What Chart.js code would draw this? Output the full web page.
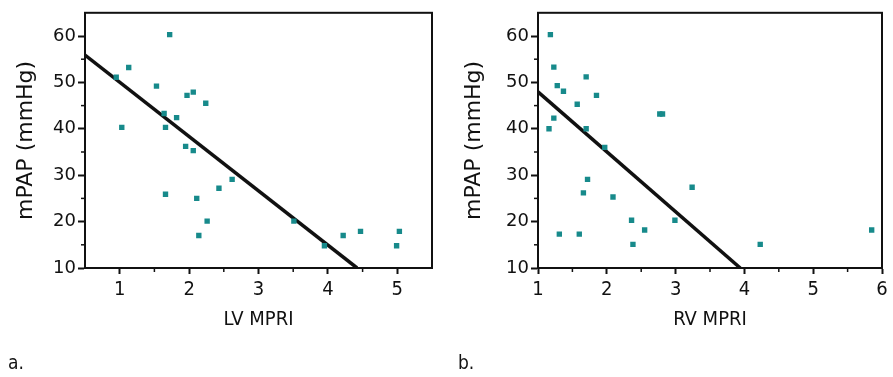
<!DOCTYPE html>
<html>
<head>
<meta charset="utf-8">
<script src="https://cdn.jsdelivr.net/npm/chart.js@4.4.1/dist/chart.umd.min.js"></script>
<style>
  body { margin: 0; background: #fff; width: 893px; height: 377px; position: relative; overflow: hidden; }
  .wrap { position: absolute; top: 0; height: 377px; }
  .panel { position: absolute; top: 351px; font-family: "Liberation Sans Narrow", "DejaVu Sans Condensed", sans-serif; font-size: 19px; color: #111; }
</style>
</head>
<body>
<div class="wrap" style="left:0;width:445px"><canvas id="lvChart" width="445" height="377"></canvas></div>
<div class="wrap" style="left:445px;width:448px"><canvas id="rvChart" width="448" height="377"></canvas></div>
<div class="panel" style="left:8px">a.</div>
<div class="panel" style="left:458px">b.</div>
<script>
// LV MPRI vs mPAP
const lvX = [1.72, 1.13, 0.95, 1.53, 1.97, 2.06, 2.24, 1.64, 1.82, 1.03, 1.66, 1.95, 2.06, 2.62, 2.43, 1.66, 2.11, 2.26, 2.14, 3.51, 3.95, 4.22, 4.47, 5.03, 4.99];
const lvY = [60.3, 53.2, 51.1, 49.2, 47.2, 47.9, 45.5, 43.3, 42.4, 40.3, 40.3, 36.2, 35.3, 29.1, 27.2, 25.9, 25.0, 20.1, 17.0, 20.1, 14.8, 17.0, 17.9, 17.9, 14.8];
const lvFitX = [0.5, 4.42];
const lvFitY = [55.9, 10];

// RV MPRI vs mPAP
const rvX = [1.18, 1.23, 1.28, 1.37, 1.70, 1.85, 1.57, 2.77, 2.81, 1.23, 1.16, 1.70, 1.97, 1.72, 3.24, 1.66, 2.09, 2.36, 2.99, 1.31, 1.60, 2.55, 2.38, 4.23, 5.85];
const rvY = [60.3, 53.3, 49.3, 48.1, 51.2, 47.2, 45.3, 43.2, 43.2, 42.3, 40.0, 40.0, 36.0, 29.1, 27.4, 26.2, 25.3, 20.3, 20.3, 17.3, 17.3, 18.2, 15.1, 15.1, 18.2];
const rvFitX = [1, 3.94];
const rvFitY = [47.95, 10];

// tick labels
const yTicks = [10, 20, 30, 40, 50, 60];
const yMinor = [15, 25, 35, 45, 55];
const lvTicks = [1, 2, 3, 4, 5];
const lvMinor = [1.5, 2.5, 3.5, 4.5];
const rvTicks = [1, 2, 3, 4, 5, 6];
const rvMinor = [1.5, 2.5, 3.5, 4.5, 5.5];

const dotColor = '#178a8b';
const ink = '#111';
const narrow = '"Liberation Sans Narrow", "DejaVu Sans Condensed", sans-serif';

// frame + minor ticks
const frameAndMinor = {
  id: 'frameAndMinor',
  afterDraw(chart, args, opts) {
    const ctx = chart.ctx;
    const xs = chart.scales.x, ys = chart.scales.y;
    const a = chart.chartArea;
    ctx.save();
    ctx.strokeStyle = ink;
    ctx.lineWidth = 2;
    ctx.strokeRect(a.left, a.top, a.right - a.left, a.bottom - a.top);
    ctx.lineWidth = 1.5;
    opts.x.forEach(v => {
      const px = xs.getPixelForValue(v);
      ctx.beginPath(); ctx.moveTo(px, a.bottom); ctx.lineTo(px, a.bottom + 4); ctx.stroke();
    });
    opts.y.forEach(v => {
      const py = ys.getPixelForValue(v);
      ctx.beginPath(); ctx.moveTo(a.left, py); ctx.lineTo(a.left - 4, py); ctx.stroke();
    });
    ctx.restore();
  }
};

function makeChart(id, xs, ys, fitX, fitY, xMin, xMax, xTicks, xMinor, xTitle, padLeft, yWidth, padRight) {
  const pts = xs.map((x, i) => ({ x, y: ys[i] }));
  const fit = fitX.map((x, i) => ({ x, y: fitY[i] }));
  return new Chart(document.getElementById(id).getContext('2d'), {
    type: 'scatter',
    data: {
      datasets: [{
        data: fit,
        showLine: true,
        borderColor: ink,
        borderWidth: 3.5,
        pointRadius: 0,
        order: 2
      }, {
        data: pts,
        pointStyle: 'rect',
        pointRadius: 3.8,
        pointBorderWidth: 0,
        backgroundColor: dotColor,
        borderColor: dotColor,
        order: 1
      }]
    },
    options: {
      responsive: false,
      animation: false,
      layout: { padding: { left: padLeft, top: 11, right: padRight, bottom: 45 } },
      plugins: {
        legend: { display: false },
        tooltip: { enabled: false },
        frameAndMinor: { x: xMinor, y: yMinor }
      },
      scales: {
        x: {
          type: 'linear',
          min: xMin,
          max: xMax,
          afterBuildTicks: s => { s.ticks = xTicks.map(v => ({ value: v })); },
          afterFit: s => { s.height = 64; },
          grid: { drawOnChartArea: false, tickLength: 6, tickColor: ink, tickWidth: 2 },
          border: { color: ink, width: 2 },
          ticks: { color: ink, padding: 4, font: { family: narrow, size: 20 } },
          title: {
            display: true,
            text: xTitle,
            color: ink,
            padding: { top: 2, bottom: 0 },
            font: { family: narrow, size: 20 }
          }
        },
        y: {
          type: 'linear',
          min: 10,
          max: 65,
          afterBuildTicks: s => { s.ticks = yTicks.map(v => ({ value: v })); },
          afterFit: s => { s.width = yWidth; },
          grid: { drawOnChartArea: false, tickLength: 7, tickColor: ink, tickWidth: 2 },
          border: { color: ink, width: 2 },
          ticks: { color: ink, padding: 2, font: { family: '"DejaVu Sans", sans-serif', size: 18 } },
          title: {
            display: true,
            text: 'mPAP (mmHg)',
            color: ink,
            padding: 0,
            font: { family: '"DejaVu Sans", sans-serif', size: 22 }
          }
        }
      }
    }
    ,
    plugins: [frameAndMinor]
  });
}

makeChart('lvChart', lvX, lvY, lvFitX, lvFitY, 0.5, 5.5, lvTicks, lvMinor, 'LV MPRI', 13, 72, 13);
makeChart('rvChart', rvX, rvY, rvFitX, rvFitY, 1, 6, rvTicks, rvMinor, 'RV MPRI', 16, 77, 11);
</script>
</body>
</html>
